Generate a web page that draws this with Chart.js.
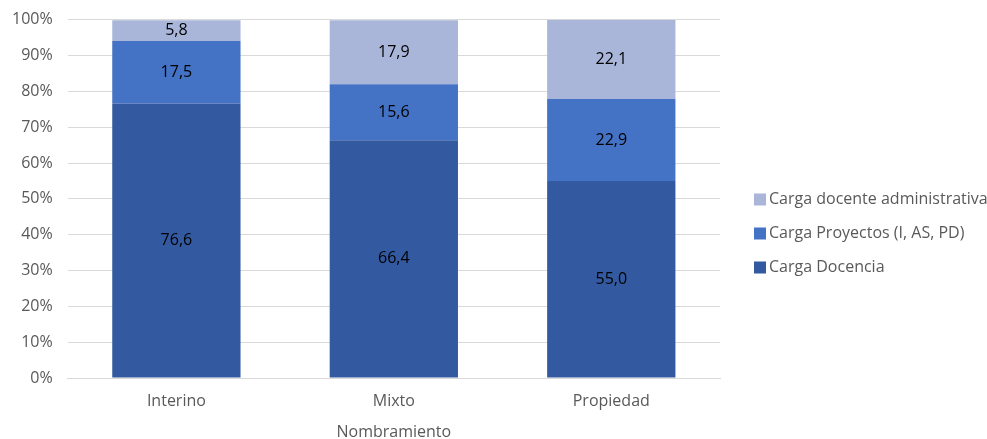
<!DOCTYPE html>
<html>
<head>
<meta charset="utf-8">
<script src="https://cdn.jsdelivr.net/npm/chart.js@4.4.1/dist/chart.umd.min.js"></script>
<style>
  html, body { margin: 0; padding: 0; background: #fff; }
  #wrap { width: 987px; height: 439px; position: relative; }
</style>
</head>
<body>
<div id="wrap"><canvas id="chart" width="987" height="439"></canvas></div>
<script>
const categories = ['Interino', 'Mixto', 'Propiedad'];
const cargaDocencia = [76.6, 66.4, 55.0];
const cargaProyectos = [17.5, 15.6, 22.9];
const cargaAdministrativa = [5.8, 17.9, 22.1];
const seriesNames = ['Carga Docencia', 'Carga Proyectos (I, AS, PD)', 'Carga docente administrativa'];
const yTicks = [0, 10, 20, 30, 40, 50, 60, 70, 80, 90, 100];

const FONT = "'Open Sans', sans-serif";
const GRAY = '#595959';

// writes each segment's value in the middle of its bar, comma as decimal mark
const barValues = {
    id: 'barValues',
    afterDatasetsDraw(chart) {
        const ctx = chart.ctx;
        ctx.save();
        ctx.font = '16px ' + FONT;
        ctx.fillStyle = '#000';
        ctx.textAlign = 'center';
        ctx.textBaseline = 'middle';
        chart.data.datasets.forEach((ds, i) => {
            chart.getDatasetMeta(i).data.forEach((bar, j) => {
                const mid = (bar.y + bar.base) / 2;
                ctx.fillText(ds.data[j].toFixed(1).replace('.', ','), bar.x, mid);
            });
        });
        ctx.restore();
    }
};

// legend in the right margin, last series on top
const sideLegend = {
    id: 'sideLegend',
    afterDraw(chart) {
        const ctx = chart.ctx;
        const x = chart.chartArea.right + 34;
        const rowGap = 34;
        const midY = chart.height / 2 + 14;
        const items = chart.data.datasets.slice().reverse();
        ctx.save();
        ctx.font = '16px ' + FONT;
        ctx.textBaseline = 'middle';
        ctx.textAlign = 'left';
        items.forEach((ds, k) => {
            const y = midY + (k - 1) * rowGap;
            ctx.fillStyle = ds.backgroundColor;
            ctx.fillRect(x, y - 6, 12, 12);
            ctx.fillStyle = GRAY;
            ctx.fillText(ds.label, x + 15, y);
        });
        ctx.restore();
    }
};

new Chart(document.getElementById('chart').getContext('2d'), {
    type: 'bar',
    data: {
        labels: categories,
        datasets: [
            { label: seriesNames[0], data: cargaDocencia, backgroundColor: '#335AA1' },
            { label: seriesNames[1], data: cargaProyectos, backgroundColor: '#4472C4' },
            { label: seriesNames[2], data: cargaAdministrativa, backgroundColor: '#A9B6DA' }
        ]
    },
    options: {
        responsive: false,
        animation: false,
        layout: { padding: { top: 0, left: -3, right: 267, bottom: -1 } },
        datasets: { bar: { categoryPercentage: 0.59, barPercentage: 1 } },
        scales: {
            x: {
                stacked: true,
                grid: { display: false, drawTicks: false },
                border: { color: '#D9D9D9' },
                ticks: { color: GRAY, font: { family: FONT, size: 16, lineHeight: 1 }, padding: 15 },
                title: {
                    display: true, text: 'Nombramiento', color: GRAY,
                    font: { family: FONT, size: 16, lineHeight: 1 }, padding: { top: 0, bottom: 0 }
                }
            },
            y: {
                stacked: true,
                min: 0,
                max: 100,
                afterBuildTicks: axis => { axis.ticks = yTicks.map(v => ({ value: v })); },
                grid: { color: '#D9D9D9', drawTicks: false },
                border: { display: false },
                ticks: {
                    color: GRAY, font: { family: FONT, size: 16, lineHeight: 0.6 }, padding: 15,
                    callback: v => v + '%'
                }
            }
        },
        plugins: {
            legend: { display: false },
            tooltip: { enabled: false }
        }
    },
    plugins: [barValues, sideLegend]
});
</script>
</body>
</html>
